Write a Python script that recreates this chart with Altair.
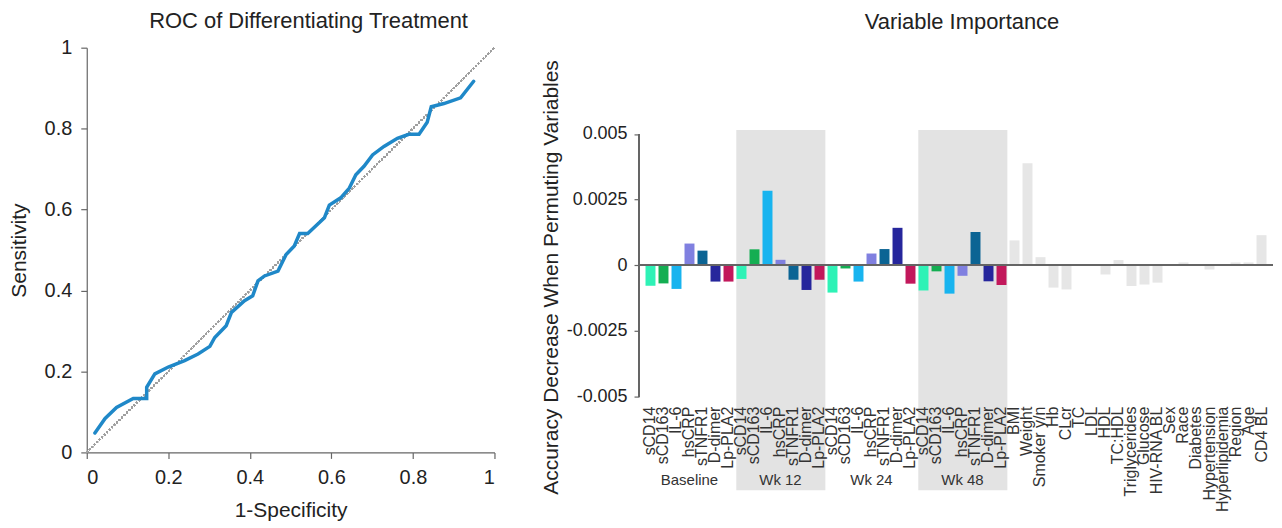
import altair as alt
import pandas as pd

FONT = "Liberation Sans"

# ---------------- ROC data ----------------
roc_fpr = [0.020, 0.045, 0.073, 0.114, 0.147, 0.147, 0.167, 0.200, 0.240, 0.273,
           0.302, 0.314, 0.342, 0.355, 0.387, 0.407, 0.420, 0.436, 0.469, 0.489,
           0.509, 0.522, 0.542, 0.583, 0.595, 0.623, 0.644, 0.660, 0.680, 0.701,
           0.729, 0.762, 0.790, 0.815, 0.835, 0.845, 0.876, 0.917, 0.949]
roc_tpr = [0.048, 0.084, 0.111, 0.133, 0.133, 0.161, 0.194, 0.211, 0.227, 0.243,
           0.262, 0.284, 0.313, 0.346, 0.375, 0.387, 0.424, 0.436, 0.448, 0.489,
           0.510, 0.541, 0.541, 0.580, 0.611, 0.629, 0.653, 0.686, 0.707, 0.735,
           0.756, 0.776, 0.786, 0.786, 0.816, 0.854, 0.862, 0.876, 0.917]
roc_ticks = [0, 0.2, 0.4, 0.6, 0.8, 1]

# ---------------- Variable importance data ----------------
biomarkers = ["sCD14", "sCD163", "IL-6", "hsCRP", "sTNFR1", "D-dimer", "Lp-PLA2"]
biomarker_colors = ["#2ef2b6", "#14ae52", "#18b4ef", "#8080e0", "#0b6494", "#26269c", "#c2185b"]
timepoints = ["Baseline", "Wk 12", "Wk 24", "Wk 48"]
shaded_timepoints = ["Wk 12", "Wk 48"]
baseline_vals = [-0.00079, -0.00070, -0.00091, 0.00082, 0.00055, -0.00063, -0.00063]
wk12_vals = [-0.00053, 0.00060, 0.00283, 0.00020, -0.00056, -0.00095, -0.00056]
wk24_vals = [-0.00105, -0.00013, -0.00063, 0.00044, 0.00061, 0.00142, -0.00071]
wk48_vals = [-0.00097, -0.00024, -0.00109, -0.00041, 0.00126, -0.00062, -0.00076]
other_vars = ["BMI", "Weight", "Smoker y/n", "Hb", "CLcr", "TC", "LDL", "HDL", "TC:HDL",
              "Triglycerides", "Glucose", "HIV-RNA BL", "Sex", "Race", "Diabetes",
              "Hypertension", "Hyperlipidemia", "Region", "Age", "CD4 BL"]
other_vals = [0.00094, 0.00388, 0.00030, -0.00086, -0.00093, 0.00001, -0.00001, -0.00036,
              0.00019, -0.00080, -0.00074, -0.00067, 0.00001, 0.00010, 0.00001,
              -0.00017, 0.00001, 0.00010, 0.00010, 0.00114]
other_color = "#e6e6e6"
band_color = "#e3e3e3"
y_ticks = [-0.005, -0.0025, 0, 0.0025, 0.005]

# build tables
rows = []
group_rows = []
idx = 0
for tp, vals in zip(timepoints, [baseline_vals, wk12_vals, wk24_vals, wk48_vals]):
    start = idx
    for name, v, c in zip(biomarkers, vals, biomarker_colors):
        rows.append({"idx": idx, "label": name, "value": v, "color": c})
        idx += 1
    group_rows.append({"group": tp, "start": start - 0.4, "end": idx - 1 + 0.45,
                       "center": (start + idx - 1) / 2,
                       "shaded": tp in shaded_timepoints})
for name, v in zip(other_vars, other_vals):
    rows.append({"idx": idx, "label": name, "value": v, "color": other_color})
    idx += 1
n_bars = idx

bars_df = pd.DataFrame(rows)
groups_df = pd.DataFrame(group_rows)
roc_df = pd.DataFrame({"fpr": roc_fpr, "tpr": roc_tpr, "order": range(len(roc_fpr))})

# ---------------- Left: ROC ----------------
LW, LH = 409, 406
xs = alt.Scale(domain=[0, 1], nice=False)
ys = alt.Scale(domain=[0, 1], nice=False)

roc_line = alt.Chart(roc_df).mark_line(color="#1f88c8", strokeWidth=3.5, strokeCap="round").encode(
    x=alt.X("fpr:Q", scale=xs,
            axis=alt.Axis(values=roc_ticks, title="1-Specificity", labelExpr="'' + datum.value",
                          grid=False, tickSize=6, labelPadding=9, titlePadding=12,
                          labelFontSize=20)),
    y=alt.Y("tpr:Q", scale=ys,
            axis=alt.Axis(values=roc_ticks, title="Sensitivity", labelExpr="'' + datum.value",
                          grid=False, tickSize=6, labelPadding=9, titlePadding=15,
                          labelFontSize=20)),
    order="order:Q",
)
diag = alt.Chart(roc_df).mark_rule(color="#a0a0a0", strokeDash=[1.5, 2], strokeWidth=1.4).encode(
    x=alt.datum(0, scale=xs), x2=alt.datum(1), y=alt.datum(0, scale=ys), y2=alt.datum(1)
)
left = alt.layer(diag, roc_line).properties(
    width=LW, height=LH,
    title=alt.TitleParams("ROC of Differentiating Treatment", fontSize=22, fontWeight="normal",
                          font=FONT, color="#222222", offset=5, dx=18),
)

# ---------------- Right: Variable importance ----------------
RW, RH = 636, 444
xscale = alt.Scale(domain=[-0.5, n_bars - 0.5], nice=False, zero=False)
yscale = alt.Scale(domain=[-0.00859, 0.00829], nice=False, zero=False)

bands = alt.Chart(groups_df).transform_filter("datum.shaded").mark_rect(color=band_color).encode(
    x=alt.X("start:Q", scale=xscale, axis=None), x2="end:Q",
    y=alt.datum(0.00515, scale=yscale), y2=alt.value(RH),
)
bars = alt.Chart(bars_df).mark_bar(size=10).encode(
    x=alt.X("idx:Q", scale=xscale, axis=None),
    y=alt.Y("value:Q", scale=yscale,
            axis=alt.Axis(values=y_ticks, labelExpr="'' + datum.value", domain=False, grid=False,
                          tickSize=5, labelPadding=7, labelFontSize=18,
                          title="Accuracy Decrease When Permuting Variables",
                          titleY=230, titlePadding=5)),
    color=alt.Color("color:N", scale=None),
)
zero_line = alt.Chart(bars_df).mark_rule(color="#666666", strokeWidth=1.6).encode(
    y=alt.datum(0, scale=yscale)
)
y_line = alt.Chart(bars_df).mark_rule(color="#666666", strokeWidth=1.2).encode(
    x=alt.value(0), y=alt.datum(y_ticks[0], scale=yscale), y2=alt.datum(y_ticks[-1])
)
var_labels = alt.Chart(bars_df).mark_text(angle=270, align="right", baseline="middle",
                                          fontSize=16, font=FONT, color="#333333").encode(
    x=alt.X("idx:Q", scale=xscale, axis=None),
    y=alt.datum(-0.0054, scale=yscale),
    text="label:N",
)
group_labels = alt.Chart(groups_df).mark_text(fontSize=15, font=FONT, color="#333333").encode(
    x=alt.X("center:Q", scale=xscale, axis=None),
    y=alt.datum(-0.0082, scale=yscale),
    text="group:N",
)
right = alt.layer(bands, bars, zero_line, y_line, var_labels, group_labels).properties(
    width=RW, height=RH,
    title=alt.TitleParams("Variable Importance", fontSize=22, fontWeight="normal",
                          font=FONT, color="#222222", offset=14, dx=6),
)

chart = alt.hconcat(left, right, spacing=44).properties(
    padding={"left": 0, "top": 1, "right": 0, "bottom": 0}
).configure_view(stroke=None).configure_axis(
    labelFont=FONT, titleFont=FONT, labelFontSize=19, titleFontSize=21,
    titleFontWeight="normal", labelColor="#222222", titleColor="#222222",
    domainColor="#666666", tickColor="#666666", domainWidth=1.2, tickWidth=1.2,
)

chart.save("out.html", embed_options={"renderer": "svg", "actions": False})
